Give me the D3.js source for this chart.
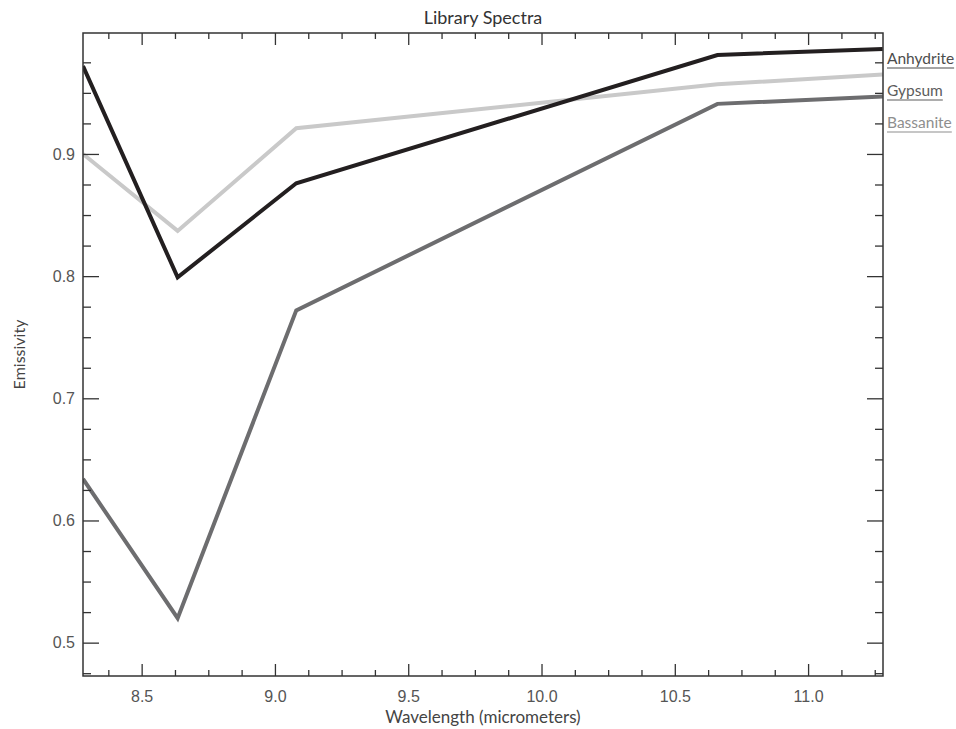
<!DOCTYPE html>
<html>
<head>
<meta charset="utf-8">
<script src="https://cdn.jsdelivr.net/npm/d3@7"></script>
<style>
  html, body { margin: 0; padding: 0; background: #fff; }
  svg { display: block; font-family: Lato, "Open Sans", sans-serif; }
</style>
</head>
<body>
<svg id="chart" width="956" height="729"></svg>
<script>
// ---- Data ----
const wavelengths = [8.28, 8.635, 9.08, 10.66, 11.28];
const anhydrite   = [0.972, 0.799, 0.876, 0.981, 0.986];
const gypsum      = [0.900, 0.837, 0.921, 0.957, 0.965];
const bassanite   = [0.634, 0.520, 0.772, 0.941, 0.947];
const seriesNames = ["Anhydrite", "Gypsum", "Bassanite"];
const xMajorTicks = [8.5, 9.0, 9.5, 10.0, 10.5, 11.0];
const yMajorTicks = [0.5, 0.6, 0.7, 0.8, 0.9];
const xDomain = [8.28, 11.281];
const yDomain = [0.4727, 0.999];

// ---- Layout ----
const svg = d3.select("#chart");
const L = 83, R = 883, T = 33, B = 676;
const x = d3.scaleLinear().domain(xDomain).range([L, R]);
const y = d3.scaleLinear().domain(yDomain).range([B, T]);

const lineColors = {Anhydrite: "#231f20", Gypsum: "#c9c9c9", Bassanite: "#6d6d6f"};
const labelColors = {Anhydrite: "#4d4d4d", Gypsum: "#5c5c5c", Bassanite: "#8e8e8e"};
const seriesData = {Anhydrite: anhydrite, Gypsum: gypsum, Bassanite: bassanite};

// minor ticks
const xMinor = d3.range(8.25, 11.3, 0.125).filter(v => v >= xDomain[0] && v <= xDomain[1] && !xMajorTicks.some(m => Math.abs(m - v) < 1e-6));
const yMinor = d3.range(0.475, 1.0, 0.025).filter(v => v >= yDomain[0] && v <= yDomain[1] && !yMajorTicks.some(m => Math.abs(m - v) < 1e-6));

// ---- Lines (clipped to frame) ----
svg.append("clipPath").attr("id", "clip").append("rect")
  .attr("x", L).attr("y", T - 3).attr("width", R - L).attr("height", B - T + 3);

const line = d3.line().x((d, i) => x(wavelengths[i])).y(d => y(d));
const order = ["Gypsum", "Bassanite", "Anhydrite"];
svg.append("g").attr("clip-path", "url(#clip)")
  .selectAll("path").data(order).join("path")
  .attr("d", n => line(seriesData[n]))
  .attr("fill", "none")
  .attr("stroke", n => lineColors[n])
  .attr("stroke-width", 4)
  .attr("stroke-linejoin", "miter");

// ---- Axes ----
const axisColor = "#333";
const fmt = d3.format(".1f");

function styleAxis(g) {
  g.select(".domain").remove();
  g.selectAll(".tick line").attr("stroke", axisColor).attr("stroke-width", 1.3);
}

// bottom
const gB = svg.append("g").attr("transform", `translate(0,${B})`)
  .call(d3.axisBottom(x).tickValues(xMajorTicks).tickFormat(fmt).tickSizeInner(-12).tickSizeOuter(0).tickPadding(15));
styleAxis(gB);
gB.selectAll(".tick text").attr("fill", "#555").attr("font-size", 16);
svg.append("g").attr("transform", `translate(0,${B})`)
  .call(d3.axisBottom(x).tickValues(xMinor).tickFormat("").tickSizeInner(-6).tickSizeOuter(0)).call(styleAxis);

// top
svg.append("g").attr("transform", `translate(0,${T})`)
  .call(d3.axisTop(x).tickValues(xMajorTicks).tickFormat("").tickSizeInner(-12).tickSizeOuter(0)).call(styleAxis);
svg.append("g").attr("transform", `translate(0,${T})`)
  .call(d3.axisTop(x).tickValues(xMinor).tickFormat("").tickSizeInner(-6).tickSizeOuter(0)).call(styleAxis);

// left
const gL = svg.append("g").attr("transform", `translate(${L},0)`)
  .call(d3.axisLeft(y).tickValues(yMajorTicks).tickFormat(fmt).tickSizeInner(-16).tickSizeOuter(0).tickPadding(8));
styleAxis(gL);
gL.selectAll(".tick text").attr("fill", "#555").attr("font-size", 16);
svg.append("g").attr("transform", `translate(${L},0)`)
  .call(d3.axisLeft(y).tickValues(yMinor).tickFormat("").tickSizeInner(-8).tickSizeOuter(0)).call(styleAxis);

// right
svg.append("g").attr("transform", `translate(${R},0)`)
  .call(d3.axisRight(y).tickValues(yMajorTicks).tickFormat("").tickSizeInner(-16).tickSizeOuter(0)).call(styleAxis);
svg.append("g").attr("transform", `translate(${R},0)`)
  .call(d3.axisRight(y).tickValues(yMinor).tickFormat("").tickSizeInner(-8).tickSizeOuter(0)).call(styleAxis);

// frame
svg.append("rect").attr("x", L).attr("y", T).attr("width", R - L).attr("height", B - T)
  .attr("fill", "none").attr("stroke", axisColor).attr("stroke-width", 1.5);

// ---- Titles ----
svg.append("text").attr("x", (L + R) / 2).attr("y", 24).attr("text-anchor", "middle")
  .attr("font-size", 18).attr("fill", "#333").text("Library Spectra");
svg.append("text").attr("x", (L + R) / 2).attr("y", 723).attr("text-anchor", "middle")
  .attr("font-size", 17).attr("fill", "#444").text("Wavelength (micrometers)");
svg.append("text").attr("transform", `translate(25,${(T + B) / 2}) rotate(-90)`).attr("text-anchor", "middle")
  .attr("font-size", 16).attr("fill", "#444").text("Emissivity");

// ---- Legend ----
const legend = svg.append("g");
const legY = d3.scalePoint().domain(seriesNames).range([64, 128]);
seriesNames.forEach(n => {
  const t = legend.append("text").attr("x", 887).attr("y", legY(n))
    .attr("font-size", 15.5).attr("fill", labelColors[n]).text(n);
  const w = t.node().getComputedTextLength();
  legend.append("line").attr("x1", 887).attr("x2", 887 + w)
    .attr("y1", legY(n) + 4).attr("y2", legY(n) + 4)
    .attr("stroke", labelColors[n]).attr("stroke-width", 1.2);
});
</script>
</body>
</html>
